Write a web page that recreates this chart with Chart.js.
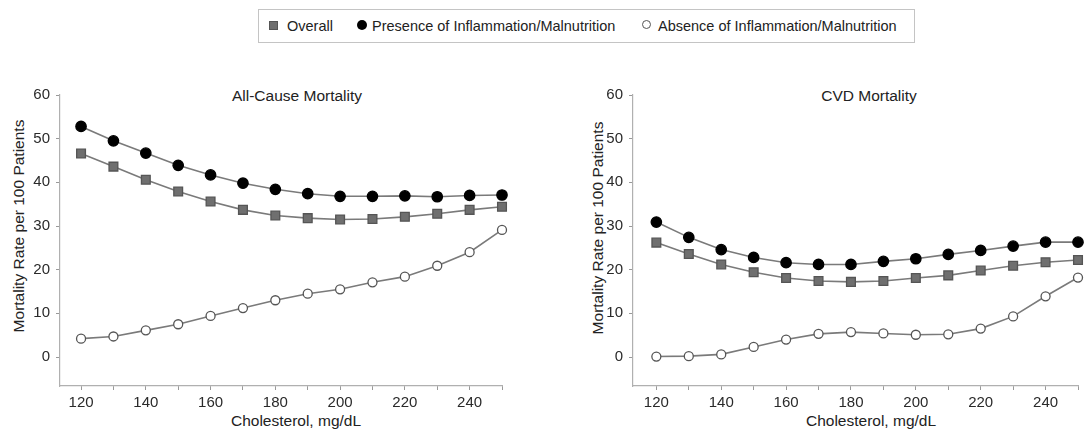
<!DOCTYPE html>
<html>
<head>
<meta charset="utf-8">
<script src="https://cdn.jsdelivr.net/npm/chart.js@4"></script>
<style>
  body { margin: 0; background: #fff; }
  #page { position: relative; width: 1084px; height: 432px; overflow: hidden;
          font-family: "Liberation Sans", Arial, sans-serif; color: #222; }
  .abs { position: absolute; white-space: nowrap; }
  .ctr { text-align: center; width: 400px; line-height: 18px; font-size: 15.5px; }
  .ytitle { width: 300px; line-height: 18px; font-size: 15.5px; text-align: center;
            transform: translate(-50%, -50%) rotate(-90deg); }
  #legend { position: absolute; left: 258px; top: 9px; width: 655px; height: 32px;
            border: 1px solid #c4c4c4; font-size: 14.5px; }
  .mk { position: absolute; box-sizing: border-box; }
</style>
</head>
<body>
<div id="page">
  <div id="legend"></div>

  <div class="abs ctr" style="left:97px; top:87px;">All-Cause Mortality</div>
  <div class="abs ctr" style="left:669px; top:87px;">CVD Mortality</div>
  <div class="abs ctr" style="left:96px; top:412px;">Cholesterol, mg/dL</div>
  <div class="abs ctr" style="left:671px; top:412px;">Cholesterol, mg/dL</div>
  <div class="abs ytitle" style="left:19px; top:226px;">Mortality Rate per 100 Patients</div>
  <div class="abs ytitle" style="left:598px; top:228px;">Mortality Rate per 100 Patients</div>

  <canvas id="graficoTodas" class="abs" width="540" height="372" style="left:0; top:60px;"></canvas>
  <canvas id="graficoCVD" class="abs" width="544" height="372" style="left:540px; top:60px;"></canvas>
</div>

<script>
const colesterol = [120, 130, 140, 150, 160, 170, 180, 190, 200, 210, 220, 230, 240, 250];
const rotulosX = [120, 140, 160, 180, 200, 220, 240];
const ticksY = [0, 10, 20, 30, 40, 50, 60];
const series = ["Overall", "Presence of Inflammation/Malnutrition", "Absence of Inflammation/Malnutrition"];

// all-cause mortality
const todasOverall  = [46.6, 43.6, 40.6, 37.9, 35.6, 33.7, 32.4, 31.8, 31.5, 31.6, 32.1, 32.8, 33.7, 34.4];
const todasPresenca = [52.8, 49.5, 46.7, 43.9, 41.7, 39.8, 38.4, 37.4, 36.8, 36.8, 36.9, 36.7, 37.0, 37.1];
const todasAusencia = [4.2, 4.7, 6.1, 7.5, 9.4, 11.2, 13.0, 14.5, 15.5, 17.1, 18.4, 20.9, 24.0, 29.1];

// CVD mortality
const cvdOverall  = [26.2, 23.6, 21.2, 19.4, 18.1, 17.4, 17.2, 17.4, 18.1, 18.7, 19.8, 20.9, 21.7, 22.2];
const cvdPresenca = [30.9, 27.4, 24.6, 22.8, 21.6, 21.2, 21.2, 21.9, 22.5, 23.5, 24.4, 25.4, 26.3, 26.3];
const cvdAusencia = [0.1, 0.2, 0.6, 2.3, 4.0, 5.3, 5.7, 5.4, 5.1, 5.2, 6.5, 9.3, 13.9, 18.2];

const fonte = "'Liberation Sans', Arial, sans-serif";
const corLinha = "#7a7a7a";

const estilos = [
    { pointStyle: "rect", pointRadius: 6.2, backgroundColor: "#6f6f6f", borderColor: "#555" },
    { pointStyle: "circle", pointRadius: 5.2, backgroundColor: "#000", borderColor: "#000" },
    { pointStyle: "circle", pointRadius: 4.5, backgroundColor: "#fff", borderColor: "#555" }
];

function montarDatasets(valores) {
    return valores.map((v, i) => ({
        label: series[i],
        data: colesterol.map((x, k) => ({ x: x, y: v[k] })),
        borderColor: corLinha,
        borderWidth: 1.6,
        tension: 0,
        clip: false,
        pointStyle: estilos[i].pointStyle,
        pointRadius: estilos[i].pointRadius,
        pointBackgroundColor: estilos[i].backgroundColor,
        pointBorderColor: estilos[i].borderColor,
        pointBorderWidth: 1.3
    }));
}

function criarGrafico(idCanvas, valores, xMin, larguraY, padDireita) {
    new Chart(document.getElementById(idCanvas), {
        type: "line",
        data: { datasets: montarDatasets(valores) },
        options: {
            responsive: false,
            animation: false,
            events: [],
            layout: { autoPadding: false, padding: { left: 0, right: padDireita, top: 35, bottom: 0 } },
            plugins: { legend: { display: false }, tooltip: { enabled: false } },
            scales: {
                x: {
                    type: "linear",
                    min: xMin,
                    max: 250,
                    afterBuildTicks: s => { s.ticks = colesterol.map(v => ({ value: v })); },
                    afterFit: s => { s.height = 46; },
                    grid: { drawOnChartArea: false, drawTicks: true, tickLength: 4, tickColor: "#999" },
                    border: { display: true, color: "#b0b0b0", width: 1.2 },
                    ticks: {
                        autoSkip: false,
                        maxRotation: 0,
                        padding: 4,
                        color: "#2a2a2a",
                        font: { family: fonte, size: 15 },
                        callback: v => rotulosX.includes(v) ? String(v) : ""
                    }
                },
                y: {
                    min: -6.64,
                    max: 60,
                    afterBuildTicks: s => { s.ticks = ticksY.map(v => ({ value: v })); },
                    afterFit: s => { s.width = larguraY; },
                    grid: { drawOnChartArea: false, drawTicks: true, tickLength: 4, tickColor: "#999" },
                    border: { display: true, color: "#b0b0b0", width: 1.2 },
                    ticks: {
                        autoSkip: false,
                        padding: 6,
                        color: "#2a2a2a",
                        font: { family: fonte, size: 15 }
                    }
                }
            }
        }
    });
}

function montarLegenda() {
    const caixa = document.getElementById("legend");
    const itens = [
        { mk: "left:10px; top:11px; width:9px; height:9px; background:#6f6f6f; border:1px solid #555;", tx: 28 },
        { mk: "left:98px; top:10px; width:10px; height:10px; border-radius:50%; background:#000;", tx: 113 },
        { mk: "left:383px; top:10px; width:9px; height:9px; border-radius:50%; background:#fff; border:1.3px solid #555;", tx: 399 }
    ];
    itens.forEach((it, i) => {
        const m = document.createElement("span");
        m.className = "mk";
        m.style.cssText = it.mk;
        caixa.appendChild(m);
        const t = document.createElement("span");
        t.className = "abs";
        t.style.cssText = `left:${it.tx}px; top:7px; line-height:18px;`;
        t.textContent = series[i];
        caixa.appendChild(t);
    });
}

montarLegenda();
criarGrafico("graficoTodas", [todasOverall, todasPresenca, todasAusencia], 113.5, 60, 38);
criarGrafico("graficoCVD", [cvdOverall, cvdPresenca, cvdAusencia], 112.8, 93, 6);
</script>
</body>
</html>
